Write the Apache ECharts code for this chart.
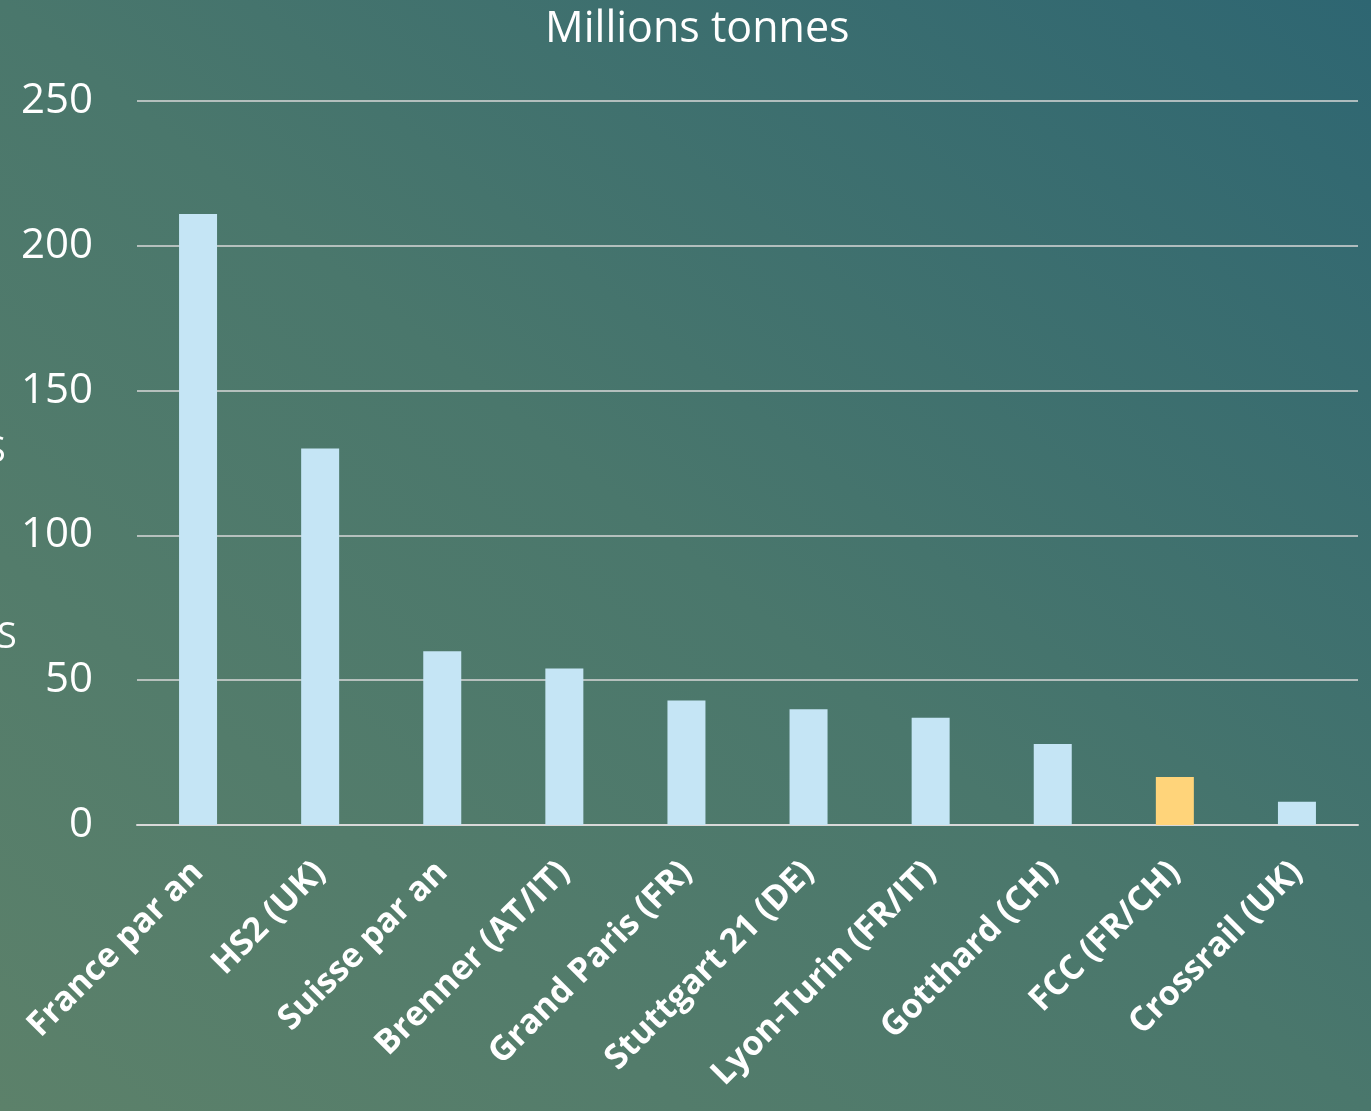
<!DOCTYPE html>
<html><head><meta charset="utf-8">
<script src="https://cdn.jsdelivr.net/npm/echarts@6/dist/echarts.min.js"></script>
<style>
html,body{margin:0;padding:0;}
body{width:1371px;height:1111px;overflow:hidden;background:linear-gradient(to top right,#5c816a 0%,#4a776c 50%,#2e6672 100%);}
#c{width:1371px;height:1111px;}
</style></head>
<body><div id="c"></div>
<script>
const categories = ["France par an","HS2 (UK)","Suisse par an","Brenner (AT/IT)","Grand Paris (FR)","Stuttgart 21 (DE)","Lyon-Turin (FR/IT)","Gotthard (CH)","FCC (FR/CH)","Crossrail (UK)"];
const values = [211,130,60,54,43,40,37,28,16.6,8];
const highlight = "FCC (FR/CH)";
const yTicks = [0,50,100,150,200,250];

const chart = echarts.init(document.getElementById('c'), null, {renderer:'canvas'});
chart.setOption({
  backgroundColor:'transparent',
  animation:false,
  title:{text:'Millions tonnes',left:540,top:3,textStyle:{color:'#ffffff',fontFamily:'Open Sans',fontWeight:'normal',fontSize:43}},
  grid:{left:137,right:13,top:101,bottom:286},
  xAxis:{type:'category',data:categories,
    axisLine:{lineStyle:{color:'#d9d9d9',width:2}},axisTick:{show:false},
    axisLabel:{rotate:45,interval:0,color:'#ffffff',fontFamily:'Open Sans',fontWeight:'bold',fontSize:34,margin:42}},
  yAxis:{type:'value',min:yTicks[0],max:yTicks[yTicks.length-1],interval:50,
    axisLine:{show:false},axisTick:{show:false},
    splitLine:{lineStyle:{color:'#d9d9d9',width:1.5}},
    axisLabel:{color:'#ffffff',fontFamily:'Open Sans',fontSize:42,margin:44}},
  graphic:[
    {type:'text',x:-14,y:452,style:{text:'S',fill:'#ffffff',font:'36px "Open Sans"',verticalAlign:'middle'}},
    {type:'text',x:-3,y:638,style:{text:'S',fill:'#ffffff',font:'36px "Open Sans"',verticalAlign:'middle'}}
  ],
  series:[{type:'bar',barWidth:38,
    data:values.map((v,i)=>({value:v,itemStyle:{color:categories[i]===highlight?'#ffd47a':'#c5e5f5'}}))}]
});
</script></body></html>
